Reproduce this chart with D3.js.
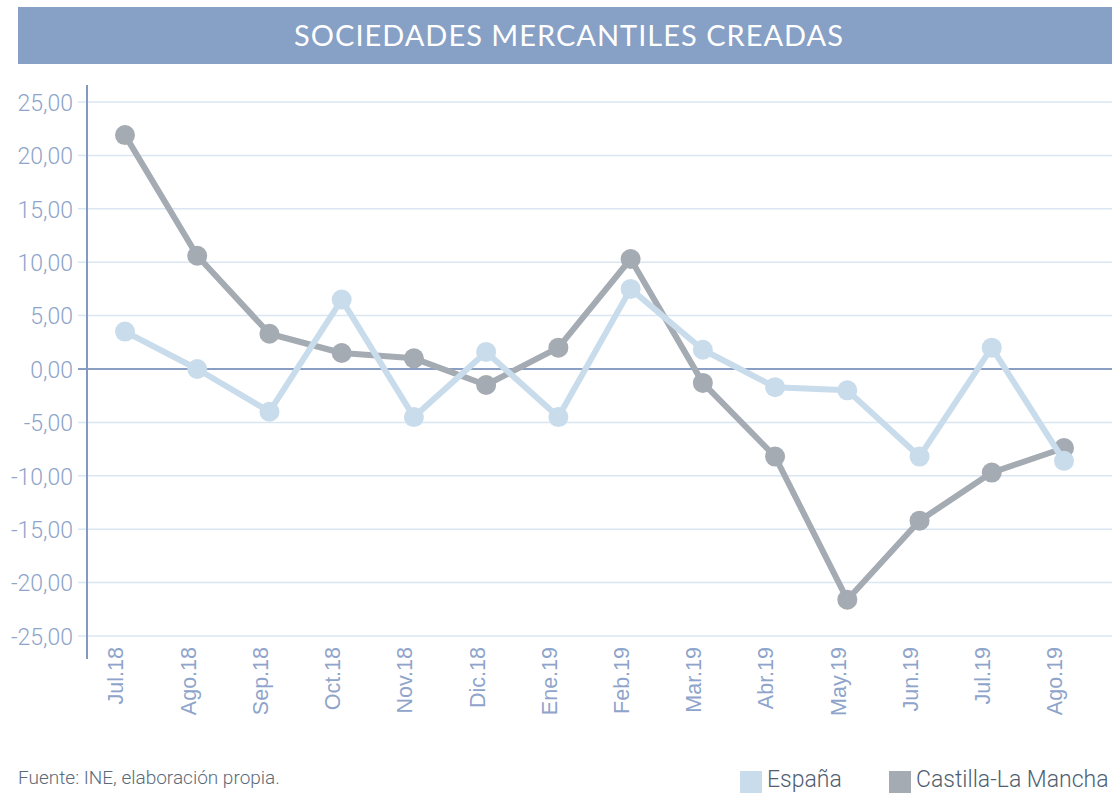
<!doctype html>
<html>
<head>
    <meta charset="utf-8">
    <style>
        body { margin: 0; background: #fff; }
        text { font-family: Roboto, "Open Sans", sans-serif; }
        .grid line { stroke: #dbe6f3; stroke-width: 1.5; }
        .axis-y text { fill: #8ea4ca; font-size: 23px; font-weight: 300; font-family: Roboto, sans-serif; }
        .axis-x text { fill: #8ea4ca; font-size: 21.5px; font-family: "Liberation Sans", Arial, sans-serif; }
    </style>
    <script src="https://d3js.org/d3.v7.min.js"></script>
</head>
<body>
    <svg width="1112" height="793"></svg>
    <script>
        var months = ["Jul.18", "Ago.18", "Sep.18", "Oct.18", "Nov.18", "Dic.18", "Ene.19",
                      "Feb.19", "Mar.19", "Abr.19", "May.19", "Jun.19", "Jul.19", "Ago.19"];
        var espana = [3.5, 0.0, -4.0, 6.5, -4.5, 1.6, -4.5, 7.5, 1.8, -1.7, -2.0, -8.2, 2.0, -8.6];
        var clm = [21.9, 10.6, 3.3, 1.5, 1.0, -1.5, 2.0, 10.3, -1.3, -8.2, -21.6, -14.2, -9.7, -7.4];
        var yTicks = [-25, -20, -15, -10, -5, 0, 5, 10, 15, 20, 25];
        var seriesNames = ["España", "Castilla-La Mancha"];
        var colors = ["#c9dcec", "#a5abb3"];

        var svg = d3.select("svg");

        // title band
        svg.append("rect")
           .attr("x", 18).attr("y", 7)
           .attr("width", 1094).attr("height", 57)
           .attr("fill", "#87a0c6");
        svg.append("text")
           .attr("x", 569).attr("y", 46)
           .attr("text-anchor", "middle")
           .attr("fill", "#fff")
           .attr("font-size", "29px")
           .attr("letter-spacing", "1px")
           .style("font-family", "Lato, 'Open Sans', sans-serif")
           .text("SOCIEDADES MERCANTILES CREADAS");

        var axisX = 87;
        var x = d3.scalePoint().domain(months).range([125, 1064]);
        var y = d3.scaleLinear().domain([-25, 25]).range([636, 102]);

        // gridlines
        svg.append("g")
           .attr("class", "grid")
           .selectAll("line")
           .data(yTicks.filter(function(d) { return d !== 0; }))
           .enter().append("line")
           .attr("x1", 78).attr("x2", 1112)
           .attr("y1", function(d) { return y(d); })
           .attr("y2", function(d) { return y(d); });

        // zero line
        svg.append("line")
           .attr("x1", 78).attr("x2", 1112)
           .attr("y1", y(0)).attr("y2", y(0))
           .attr("stroke", "#8a9fc3").attr("stroke-width", 2);

        // y axis
        var gy = svg.append("g")
           .attr("class", "axis-y")
           .attr("transform", "translate(" + axisX + ",0)")
           .call(d3.axisLeft(y).tickValues(yTicks).tickSize(0).tickPadding(14)
                 .tickFormat(function(d) { return d3.format(".2f")(d).replace(".", ",").replace("−", "-"); }));
        gy.select(".domain").remove();
        gy.selectAll("text").attr("dy", "0.36em");
        svg.append("line")
           .attr("x1", axisX).attr("x2", axisX)
           .attr("y1", 85).attr("y2", 659)
           .attr("stroke", "#8399bf").attr("stroke-width", 2);

        // x axis labels
        var gx = svg.append("g")
           .attr("class", "axis-x")
           .attr("transform", "translate(0,647)")
           .call(d3.axisBottom(x).tickSize(0).tickPadding(0));
        gx.select(".domain").remove();
        gx.selectAll("text")
          .attr("transform", "rotate(-90)")
          .attr("text-anchor", "end")
          .attr("x", 0)
          .attr("y", 0)
          .attr("dy", "-0.1em");

        var line = d3.line()
            .x(function(d, i) { return x(months[i]); })
            .y(function(d) { return y(d); });

        // Castilla-La Mancha drawn first, España on top
        [clm, espana].forEach(function(vals, k) {
            var c = k === 0 ? colors[1] : colors[0];
            svg.append("path")
               .datum(vals)
               .attr("fill", "none")
               .attr("stroke", c)
               .attr("stroke-width", 6)
               .attr("stroke-linejoin", "round")
               .attr("d", line);
            svg.append("g").selectAll("circle")
               .data(vals)
               .enter().append("circle")
               .attr("cx", function(d, i) { return x(months[i]); })
               .attr("cy", function(d) { return y(d); })
               .attr("r", 10)
               .attr("fill", c);
        });

        // footer
        svg.append("text")
           .attr("x", 18).attr("y", 784)
           .attr("fill", "#5b6a78")
           .attr("font-size", "19px")
           .attr("font-weight", 300)
           .text("Fuente: INE, elaboración propia.");

        // legend
        var legendX = [740, 889];
        seriesNames.forEach(function(name, i) {
            svg.append("rect")
               .attr("x", legendX[i]).attr("y", 771)
               .attr("width", 22).attr("height", 22)
               .attr("fill", colors[i]);
            svg.append("text")
               .attr("x", legendX[i] + 27).attr("y", 787)
               .attr("fill", "#4e6070")
               .attr("font-size", "23px")
               .attr("font-weight", 300)
               .text(name);
        });
    </script>
</body>
</html>
